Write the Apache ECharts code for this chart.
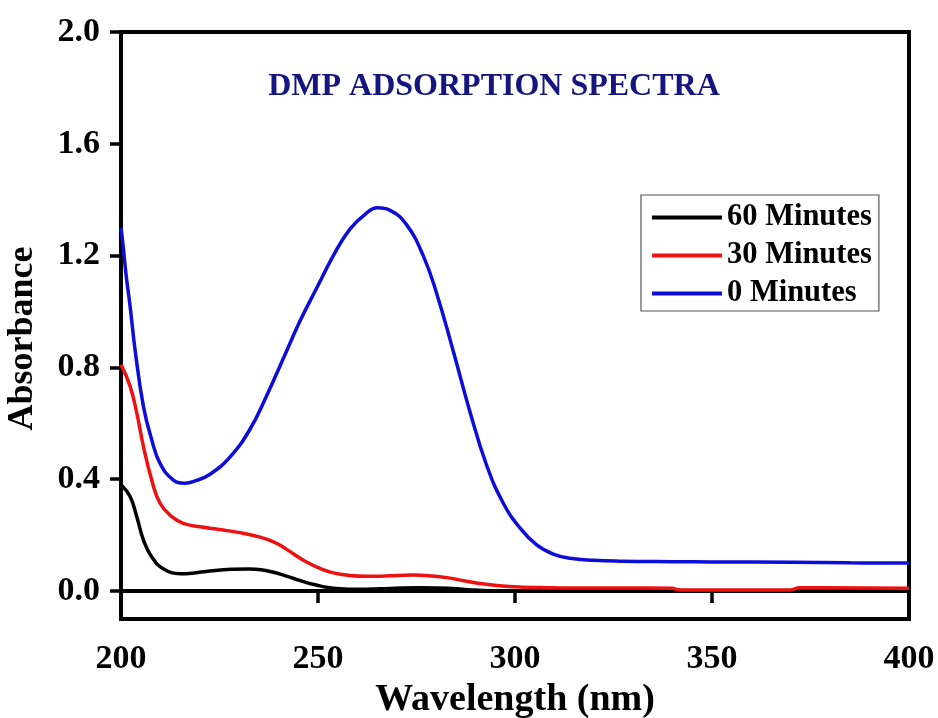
<!DOCTYPE html>
<html>
<head>
<meta charset="utf-8">
<script src="https://cdn.jsdelivr.net/npm/echarts@6/dist/echarts.min.js"></script>
<style>
html,body{margin:0;padding:0;background:#fff;}
#chart{width:938px;height:718px;}
</style>
</head>
<body>
<div id="chart"></div>
<script>
var seriesNames = ['60 Minutes', '30 Minutes', '0 Minutes'];
var yTicks = [0, 0.4, 0.8, 1.2, 1.6, 2.0];
var xTicks = [200, 250, 300, 350, 400];

var wl60 = [200, 202.3, 204.0, 205.7, 207.8, 210.7, 215.0, 218, 222.6, 228, 232.7, 236, 238.7, 241.2, 244, 247.1, 249.7, 252, 255.6, 260, 266, 271, 275.9, 280, 285.2, 289, 293.7, 300, 320, 350, 370, 400];
var abs60 = [0.38, 0.338, 0.266, 0.182, 0.122, 0.080, 0.062, 0.064, 0.072, 0.078, 0.079, 0.075, 0.067, 0.057, 0.044, 0.030, 0.021, 0.014, 0.008, 0.006, 0.008, 0.011, 0.012, 0.011, 0.008, 0.004, 0.001, 0.0, 0.0, 0.0, 0.0, 0.0];

var wl30 = [200, 202.3, 204.0, 205.7, 207.8, 209.9, 212.9, 215.8, 220.1, 225, 230.2, 235.3, 238.7, 241.2, 244, 247.1, 250.5, 253.9, 258, 262.4, 266, 270, 274.2, 278, 282.7, 287, 291.1, 296, 302.1, 308, 314.8, 326.6, 340, 341, 342, 370, 371, 372, 400];
var abs30 = [0.81, 0.733, 0.637, 0.517, 0.397, 0.314, 0.266, 0.242, 0.230, 0.220, 0.209, 0.193, 0.176, 0.157, 0.131, 0.104, 0.081, 0.065, 0.056, 0.053, 0.053, 0.056, 0.057, 0.055, 0.048, 0.037, 0.027, 0.019, 0.014, 0.012, 0.011, 0.011, 0.010, 0.006, 0.004, 0.004, 0.008, 0.012, 0.010];

var wl0 = [200, 200.5, 201.3, 202.3, 203.6, 205.7, 207.8, 209.9, 213.3, 216.2, 219, 222.6, 227.7, 232.7, 237.0, 241.2, 245.4, 249.7, 253.9, 258.1, 262.4, 265, 268.3, 272.5, 276.7, 280, 284.3, 288.6, 292.8, 297.0, 301.3, 305.5, 309.7, 314.0, 320, 326.6, 340, 350, 370, 385, 400];
var abs0 = [1.30, 1.24, 1.13, 1.02, 0.86, 0.66, 0.541, 0.457, 0.397, 0.386, 0.395, 0.418, 0.480, 0.578, 0.700, 0.832, 0.965, 1.085, 1.200, 1.295, 1.353, 1.371, 1.362, 1.31, 1.20, 1.07, 0.86, 0.64, 0.45, 0.315, 0.225, 0.165, 0.132, 0.117, 0.110, 0.107, 0.105, 0.104, 0.103, 0.101, 0.100];

function pairs(xs, ys) { return xs.map(function (x, i) { return [x, ys[i]]; }); }

var FONT = "'Liberation Serif', 'Times New Roman', serif";
var chart = echarts.init(document.getElementById('chart'), null, {renderer: 'canvas'});
var colors = ['#000000', '#ee1111', '#0d0dd9'];
var datas = [pairs(wl60, abs60), pairs(wl30, abs30), pairs(wl0, abs0)];

chart.setOption({
  backgroundColor: '#ffffff',
  animation: false,
  color: colors,
  grid: {left: 121, right: 29, top: 32, bottom: 99, show: true, borderColor: '#000', borderWidth: 4,
    backgroundColor: 'transparent', containLabel: false, outerBoundsMode: 'none'},
  graphic: [{
    type: 'text', x: 494, y: 87,
    style: {text: 'DMP ADSORPTION SPECTRA', font: "bold 32px " + FONT, fill: '#15157f', align: 'center', verticalAlign: 'middle'}
  }],
  legend: {
    data: seriesNames,
    orient: 'vertical',
    left: 641, top: 195,
    icon: 'rect',
    itemWidth: 70, itemHeight: 4,
    itemGap: 7,
    padding: [7, 7, 2, 11],
    borderColor: '#555', borderWidth: 1.2,
    textStyle: {fontFamily: FONT, fontWeight: 'bold', fontSize: 30.5, color: '#000'}
  },
  xAxis: {
    type: 'value', min: 200, max: 400, interval: 50,
    name: 'Wavelength (nm)', nameLocation: 'middle', nameGap: 61,
    nameTextStyle: {fontFamily: FONT, fontWeight: 'bold', fontSize: 38, color: '#000'},
    axisLine: {show: true, lineStyle: {color: '#000', width: 4}},
    axisTick: {show: true, inside: false, length: 12, lineStyle: {color: '#000', width: 3.5}},
    axisLabel: {fontFamily: FONT, fontWeight: 'bold', fontSize: 34, color: '#000', margin: 23,
      customValues: xTicks},
    splitLine: {show: false}
  },
  yAxis: {
    type: 'value', min: -0.1, max: 2.0,
    name: 'Absorbance', nameLocation: 'middle', nameGap: 80, nameRotate: 90,
    nameTextStyle: {fontFamily: FONT, fontWeight: 'bold', fontSize: 36, color: '#000', padding: [0, 26, 0, 0]},
    axisLine: {show: true, lineStyle: {color: '#000', width: 4}},
    axisTick: {show: true, inside: false, length: 11, lineStyle: {color: '#000', width: 3.5}, customValues: yTicks},
    axisLabel: {fontFamily: FONT, fontWeight: 'bold', fontSize: 34, color: '#000', margin: 21,
      customValues: yTicks, formatter: function (v) { return v.toFixed(1); }},
    splitLine: {show: false}
  },
  series: seriesNames.map(function (n, i) {
    return {
      name: n, type: 'line', data: datas[i], showSymbol: false, symbol: 'none',
      smooth: 0.45, lineStyle: {width: 3.5, color: colors[i]}, itemStyle: {color: colors[i]}, z: 2 + i
    };
  })
});
</script>
</body>
</html>
